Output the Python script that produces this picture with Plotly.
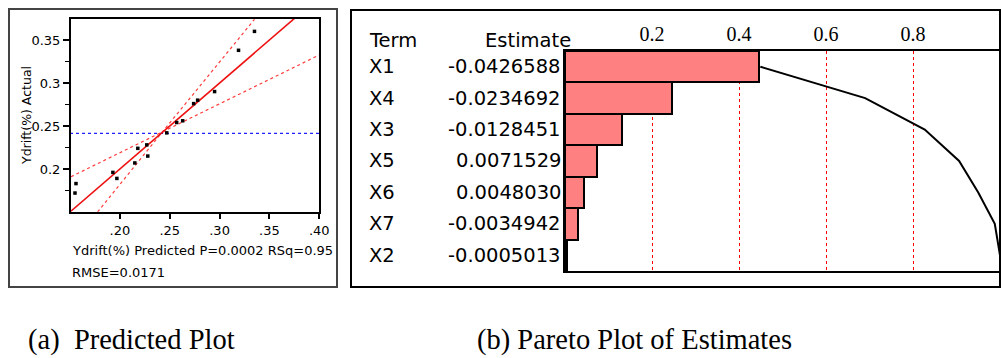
import plotly.graph_objects as go

# ---- data -----------------------------------------------------------------
# (a) predicted vs actual
pred = [0.155, 0.156, 0.193, 0.197, 0.215, 0.218, 0.227, 0.228,
        0.247, 0.257, 0.263, 0.274, 0.278, 0.295, 0.319, 0.335]
actual = [0.172, 0.183, 0.196, 0.189, 0.207, 0.224, 0.228, 0.215,
          0.242, 0.254, 0.256, 0.276, 0.280, 0.290, 0.338, 0.360]
fit_x = [0.15, 0.40]
fit_y = [0.15, 0.40]
conf_steep_x = [0.1777, 0.243, 0.335]
conf_steep_y = [0.150, 0.2436, 0.374]
conf_flat_x = [0.151, 0.243, 0.40]
conf_flat_y = [0.191, 0.2436, 0.3326]
mean_actual = 0.2415
x_ticks = [0.20, 0.25, 0.30, 0.35, 0.40]
x_tick_text = [".20", ".25", ".30", ".35", ".40"]
y_ticks = [0.20, 0.25, 0.30, 0.35]
y_tick_text = ["0.2", "0.25", "0.3", "0.35"]

# (b) pareto plot of estimates
terms = ["X1", "X4", "X3", "X5", "X6", "X7", "X2"]
estimates = ["-0.0426588", "-0.0234692", "-0.0128451", "0.0071529",
             "0.0048030", "-0.0034942", "-0.0005013"]
bar_frac = [0.445, 0.245, 0.132, 0.073, 0.044, 0.031, 0.005]
cum_frac = [0.449, 0.690, 0.827, 0.906, 0.950, 0.988, 1.0]
pareto_ticks = [0.2, 0.4, 0.6, 0.8]

W, H = 1001, 358
def px(x):
    return x / W
def py(y):
    return 1 - y / H

SANS = "DejaVu Sans"
SERIF = "Liberation Serif"

fig = go.Figure()

# ---- (a) ----
fig.add_trace(go.Scatter(x=conf_steep_x, y=conf_steep_y, mode="lines",
                         line=dict(color="#ff3b3b", width=1.2, dash="dot"),
                         xaxis="x", yaxis="y", hoverinfo="skip"))
fig.add_trace(go.Scatter(x=conf_flat_x, y=conf_flat_y, mode="lines",
                         line=dict(color="#ff3b3b", width=1.2, dash="dot"),
                         xaxis="x", yaxis="y", hoverinfo="skip"))
fig.add_trace(go.Scatter(x=fit_x, y=[mean_actual, mean_actual], mode="lines",
                         line=dict(color="#2020ff", width=1.2, dash="dot"),
                         xaxis="x", yaxis="y", hoverinfo="skip"))
fig.add_trace(go.Scatter(x=fit_x, y=fit_y, mode="lines",
                         line=dict(color="#ee1111", width=1.6),
                         xaxis="x", yaxis="y"))
fig.add_trace(go.Scatter(x=pred, y=actual, mode="markers",
                         marker=dict(color="black", size=3.5, symbol="square"),
                         xaxis="x", yaxis="y", cliponaxis=False))

# ---- (b) ----
fig.add_trace(go.Bar(x=bar_frac, y=terms, orientation="h",
                     marker=dict(color="#ff8080", line=dict(color="black", width=2)),
                     xaxis="x2", yaxis="y2"))
fig.add_trace(go.Scatter(x=cum_frac, y=terms, mode="lines",
                         line=dict(color="black", width=2),
                         xaxis="x2", yaxis="y2"))

axis_common = dict(showline=True, linecolor="black", mirror=True, zeroline=False)

fig.update_layout(
    width=W, height=H,
    margin=dict(l=0, r=0, t=0, b=0, pad=0, autoexpand=False),
    paper_bgcolor="white", plot_bgcolor="white",
    showlegend=False, bargap=0,
    font=dict(family=SANS, color="black"),
    xaxis=dict(domain=[px(70.7), px(319.3)], range=[0.1507, 0.40],
               tickvals=x_ticks, ticktext=x_tick_text, ticks="outside",
               ticklen=6, tickwidth=1.5, tickcolor="black", showgrid=False,
               linewidth=1.5, tickfont=dict(size=13, family=SANS),
               anchor="y", **axis_common),
    yaxis=dict(domain=[py(211.7), py(19)], range=[0.1503, 0.3744],
               tickvals=y_ticks, ticktext=y_tick_text, ticks="outside",
               ticklen=6, tickwidth=1.5, tickcolor="black", showgrid=False,
               linewidth=1.5, tickfont=dict(size=13, family=SANS),
               minor=dict(tickvals=[0.175, 0.225, 0.275, 0.325], ticks="outside",
                          ticklen=4, tickwidth=1.2, tickcolor="black"),
               anchor="x", **axis_common),
    xaxis2=dict(domain=[px(565), px(1000)], range=[0, 1], side="top",
                tickvals=pareto_ticks, ticks="", showgrid=True,
                gridcolor="#ff0000", griddash="dot", gridwidth=1.2,
                tickfont=dict(size=20, family=SERIF), linewidth=2,
                anchor="y2", **axis_common),
    yaxis2=dict(domain=[py(271), py(51)], range=[6.5, -0.5],
                type="category", showticklabels=False, ticks="",
                showgrid=False, linewidth=2, anchor="x2", **axis_common),
)

# outer frames
fig.add_shape(type="rect", xref="paper", yref="paper",
              x0=px(9), x1=px(337), y0=py(287), y1=py(9),
              line=dict(color="#444444", width=2))
fig.add_shape(type="rect", xref="paper", yref="paper",
              x0=px(351), x1=px(1000), y0=py(287), y1=py(10),
              line=dict(color="black", width=2))

ann = []
# (a) titles
ann.append(dict(text="Ydrift(%) Actual", x=px(26), y=py(116), textangle=-90,
                font=dict(size=12.5)))
ann.append(dict(text="Ydrift(%) Predicted P=0.0002 RSq=0.95", x=px(70), y=py(250),
                xanchor="left", font=dict(size=13)))
ann.append(dict(text="RMSE=0.0171", x=px(70), y=py(272), xanchor="left",
                font=dict(size=13)))
# (b) table
ann.append(dict(text="Term", x=px(367), y=py(40), xanchor="left", font=dict(size=19.5)))
ann.append(dict(text="Estimate", x=px(573), y=py(40), xanchor="right", font=dict(size=19.5)))
for t, e in zip(terms, estimates):
    ann.append(dict(text=t, x=px(367), y=t, yref="y2", xanchor="left",
                    font=dict(size=19.5)))
    ann.append(dict(text=e, x=px(563), y=t, yref="y2", xanchor="right",
                    font=dict(size=19.5)))
# captions
ann.append(dict(text="(a)  Predicted Plot", x=px(26), y=0, yanchor="bottom",
                font=dict(size=28.5, family=SERIF)))
ann.append(dict(text="(b) Pareto Plot of Estimates", x=px(475), y=0, yanchor="bottom",
                font=dict(size=28.5, family=SERIF)))

for a in ann:
    a.setdefault("xref", "paper")
    a.setdefault("yref", "paper")
    a.setdefault("yanchor", "middle")
    a.setdefault("xanchor", "center") if "textangle" in a else a.setdefault("xanchor", "left")
    a["showarrow"] = False
    fig.add_annotation(**a)

fig.write_html("out.html", config={"displayModeBar": False},
               post_script="document.body.style.margin='0';")
